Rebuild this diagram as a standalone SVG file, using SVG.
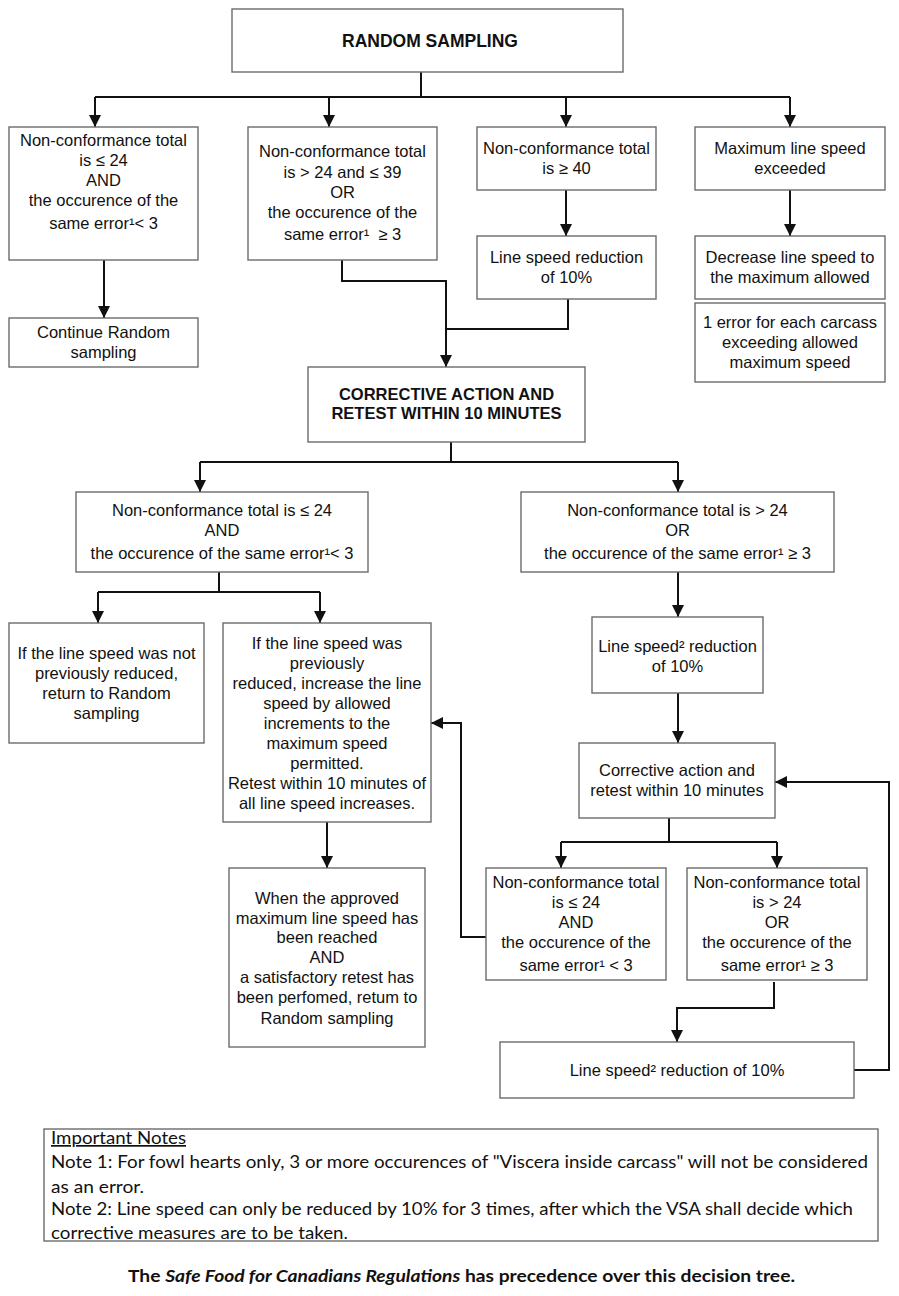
<svg xmlns="http://www.w3.org/2000/svg" width="899" height="1296" viewBox="0 0 899 1296">
<style>
.box{fill:#fff;stroke:#6b6b6b;stroke-width:1.4}
.t{font-family:"Liberation Sans",Arial,sans-serif;font-size:16.5px;fill:#111;text-anchor:middle}
.b{font-family:"Liberation Sans",Arial,sans-serif;font-size:16.5px;font-weight:bold;fill:#111;text-anchor:middle}
.n{font-family:Lato,"Liberation Sans",sans-serif;font-size:17px;fill:#111}
.c{fill:none;stroke:#111;stroke-width:2}
</style>
<defs>
<marker id="ahl" markerUnits="userSpaceOnUse" markerWidth="12" markerHeight="12" viewBox="0 0 12 12" refX="0" refY="6" orient="0">
<path d="M0 6 L12 0 L12 12 Z" fill="#111"/>
</marker>
<marker id="ahd" markerUnits="userSpaceOnUse" markerWidth="12" markerHeight="12" viewBox="0 0 12 12" refX="6" refY="12" orient="0">
<path d="M6 12 L0 0 L12 0 Z" fill="#111"/>
</marker>
</defs>
<rect width="899" height="1296" fill="#fff"/>

<g id="connectors">
<path class="c" d="M421 72 V97 M95 97 H790"/>
<path class="c" style="marker-end:url(#ahd)" d="M95 97 V127"/>
<path class="c" style="marker-end:url(#ahd)" d="M329 97 V127"/>
<path class="c" style="marker-end:url(#ahd)" d="M566 97 V127"/>
<path class="c" style="marker-end:url(#ahd)" d="M790 97 V127"/>
<path class="c" style="marker-end:url(#ahd)" d="M104 260 V318"/>
<path class="c" style="marker-end:url(#ahd)" d="M342 260 V281 H446 V367"/>
<path class="c" style="marker-end:url(#ahd)" d="M566 190 V236"/>
<path class="c" d="M568 299 V329 H446"/>
<path class="c" style="marker-end:url(#ahd)" d="M790 190 V236"/>
<path class="c" d="M451 442 V462 M200 462 H678"/>
<path class="c" style="marker-end:url(#ahd)" d="M200 462 V492"/>
<path class="c" style="marker-end:url(#ahd)" d="M678 462 V492"/>
<path class="c" d="M219 572 V592 M98 592 H320"/>
<path class="c" style="marker-end:url(#ahd)" d="M98 592 V623"/>
<path class="c" style="marker-end:url(#ahd)" d="M320 592 V623"/>
<path class="c" style="marker-end:url(#ahd)" d="M327 822 V868"/>
<path class="c" style="marker-end:url(#ahd)" d="M678 572 V617"/>
<path class="c" style="marker-end:url(#ahd)" d="M678 693 V743"/>
<path class="c" d="M669 818 V842 M561 842 H777"/>
<path class="c" style="marker-end:url(#ahd)" d="M561 842 V868"/>
<path class="c" style="marker-end:url(#ahd)" d="M777 842 V868"/>
<path class="c" style="marker-end:url(#ahl)" d="M486 937 H461 V723 H431"/>
<path class="c" style="marker-end:url(#ahd)" d="M774 982 V1008 H677 V1042"/>
<path class="c" style="marker-end:url(#ahl)" d="M854 1070 H889 V782 H775"/>
</g>

<g id="random-sampling">
<rect class="box" x="232" y="9" width="391" height="63"/>
<text class="b" x="430" y="47" style="font-size:17.5px">RANDOM SAMPLING</text>
</g>

<g id="nc-le24">
<rect class="box" x="9" y="127" width="189" height="133"/>
<text class="t" x="103.5" y="146">Non-conformance total</text>
<text class="t" x="103.5" y="166">is ≤ 24</text>
<text class="t" x="103.5" y="186">AND</text>
<text class="t" x="103.5" y="206">the occurence of the</text>
<text class="t" x="103.5" y="229">same error¹&lt; 3</text>
</g>

<g id="nc-24-39">
<rect class="box" x="248" y="127" width="189" height="133"/>
<text class="t" x="342.5" y="157">Non-conformance total</text>
<text class="t" x="342.5" y="178">is &gt; 24 and ≤ 39</text>
<text class="t" x="342.5" y="198">OR</text>
<text class="t" x="342.5" y="218">the occurence of the</text>
<text class="t" x="342.5" y="240" xml:space="preserve">same error¹  ≥ 3</text>
</g>

<g id="nc-ge40">
<rect class="box" x="477" y="127" width="179" height="63"/>
<text class="t" x="566.5" y="154">Non-conformance total</text>
<text class="t" x="566.5" y="174">is ≥ 40</text>
</g>

<g id="line-speed-red-1">
<rect class="box" x="477" y="236" width="179" height="63"/>
<text class="t" x="566.5" y="263">Line speed reduction</text>
<text class="t" x="566.5" y="283">of 10%</text>
</g>

<g id="max-exceeded">
<rect class="box" x="695" y="127" width="190" height="63"/>
<text class="t" x="790" y="154">Maximum line speed</text>
<text class="t" x="790" y="174">exceeded</text>
</g>

<g id="decrease-speed">
<rect class="box" x="695" y="236" width="190" height="63"/>
<text class="t" x="790" y="263">Decrease line speed to</text>
<text class="t" x="790" y="283">the maximum allowed</text>
</g>

<g id="one-error">
<rect class="box" x="695" y="303" width="190" height="79"/>
<text class="t" x="790" y="328">1 error for each carcass</text>
<text class="t" x="790" y="348">exceeding allowed</text>
<text class="t" x="790" y="368">maximum speed</text>
</g>

<g id="continue-random">
<rect class="box" x="9" y="318" width="189" height="49"/>
<text class="t" x="103.5" y="338">Continue Random</text>
<text class="t" x="103.5" y="358">sampling</text>
</g>

<g id="corrective-action">
<rect class="box" x="308" y="367" width="277" height="75"/>
<text class="b" x="446.5" y="400">CORRECTIVE ACTION AND</text>
<text class="b" x="446.5" y="419">RETEST WITHIN 10 MINUTES</text>
</g>

<g id="retest-ok">
<rect class="box" x="76" y="492" width="292" height="80"/>
<text class="t" x="222" y="516">Non-conformance total is ≤ 24</text>
<text class="t" x="222" y="536">AND</text>
<text class="t" x="222" y="559">the occurence of the same error¹&lt; 3</text>
</g>

<g id="retest-fail">
<rect class="box" x="521" y="492" width="313" height="80"/>
<text class="t" x="677.5" y="516">Non-conformance total is &gt; 24</text>
<text class="t" x="677.5" y="536">OR</text>
<text class="t" x="677.5" y="559">the occurence of the same error¹ ≥ 3</text>
</g>

<g id="not-reduced">
<rect class="box" x="9" y="623" width="195" height="120"/>
<text class="t" x="106.5" y="659">If the line speed was not</text>
<text class="t" x="106.5" y="679">previously reduced,</text>
<text class="t" x="106.5" y="699">return to Random</text>
<text class="t" x="106.5" y="719">sampling</text>
</g>

<g id="increase-speed">
<rect class="box" x="223" y="623" width="208" height="199"/>
<text class="t" x="327" y="649">If the line speed was</text>
<text class="t" x="327" y="669">previously</text>
<text class="t" x="327" y="689">reduced, increase the line</text>
<text class="t" x="327" y="709">speed by allowed</text>
<text class="t" x="327" y="729">increments to the</text>
<text class="t" x="327" y="749">maximum speed</text>
<text class="t" x="327" y="769">permitted.</text>
<text class="t" x="327" y="789">Retest within 10 minutes of</text>
<text class="t" x="327" y="809">all line speed increases.</text>
</g>

<g id="approved-reached">
<rect class="box" x="229" y="868" width="196" height="179"/>
<text class="t" x="327" y="904">When the approved</text>
<text class="t" x="327" y="924">maximum line speed has</text>
<text class="t" x="327" y="943">been reached</text>
<text class="t" x="327" y="963">AND</text>
<text class="t" x="327" y="983">a satisfactory retest has</text>
<text class="t" x="327" y="1003">been perfomed, retum to</text>
<text class="t" x="327" y="1024">Random sampling</text>
</g>

<g id="line-speed-red-2">
<rect class="box" x="592" y="617" width="171" height="76"/>
<text class="t" x="677.5" y="652">Line speed² reduction</text>
<text class="t" x="677.5" y="672">of 10%</text>
</g>

<g id="corrective-retest">
<rect class="box" x="579" y="743" width="196" height="75"/>
<text class="t" x="677" y="776">Corrective action and</text>
<text class="t" x="677" y="796">retest within 10 minutes</text>
</g>

<g id="second-ok">
<rect class="box" x="486" y="868" width="180" height="112"/>
<text class="t" x="576" y="888">Non-conformance total</text>
<text class="t" x="576" y="908">is ≤ 24</text>
<text class="t" x="576" y="928">AND</text>
<text class="t" x="576" y="948">the occurence of the</text>
<text class="t" x="576" y="971">same error¹ &lt; 3</text>
</g>

<g id="second-fail">
<rect class="box" x="687" y="868" width="180" height="112"/>
<text class="t" x="777" y="888">Non-conformance total</text>
<text class="t" x="777" y="908">is &gt; 24</text>
<text class="t" x="777" y="928">OR</text>
<text class="t" x="777" y="948">the occurence of the</text>
<text class="t" x="777" y="971">same error¹ ≥ 3</text>
</g>

<g id="line-speed-red-3">
<rect class="box" x="500" y="1042" width="354" height="56"/>
<text class="t" x="677" y="1076">Line speed² reduction of 10%</text>
</g>

<g id="notes">
<rect class="box" x="44" y="1129" width="834" height="112"/>
<text class="n" x="51" y="1144" textLength="135" lengthAdjust="spacingAndGlyphs" text-decoration="underline">Important Notes</text>
<text class="n" x="51" y="1168" textLength="817" lengthAdjust="spacingAndGlyphs">Note 1: For fowl hearts only, 3 or more occurences of "Viscera inside carcass" will not be considered</text>
<text class="n" x="51" y="1193" textLength="93" lengthAdjust="spacingAndGlyphs">as an error.</text>
<text class="n" x="51" y="1215" textLength="802" lengthAdjust="spacingAndGlyphs">Note 2: Line speed can only be reduced by 10% for 3 times, after which the VSA shall decide which</text>
<text class="n" x="51" y="1239" textLength="297" lengthAdjust="spacingAndGlyphs">corrective measures are to be taken.</text>
</g>

<g id="footer">
<text class="n" x="128" y="1282" font-weight="bold" textLength="667" lengthAdjust="spacingAndGlyphs">The <tspan font-style="italic">Safe Food for Canadians Regulations</tspan> has precedence over this decision tree.</text>
</g>
</svg>
